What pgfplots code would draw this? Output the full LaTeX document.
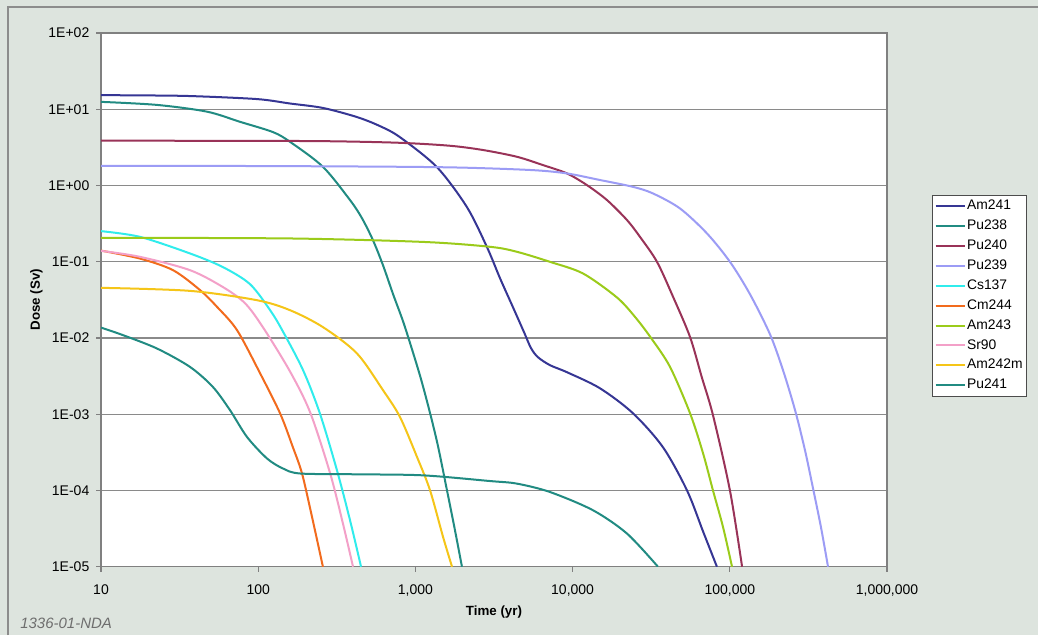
\documentclass[border=0pt]{standalone}
\usepackage{fontspec}
\setmainfont{Liberation Sans}
\usepackage{pgfplots}
\pgfplotsset{compat=1.18}
\definecolor{bg}{RGB}{221,228,222}
\definecolor{framegray}{HTML}{8C8C8C}
\definecolor{axgray}{HTML}{808080}
\definecolor{gridgray}{HTML}{8A8A8A}
\definecolor{idgray}{HTML}{6E6E6E}
\definecolor{cAm241}{HTML}{363694}
\definecolor{cPu238}{HTML}{218B82}
\definecolor{cPu240}{HTML}{993358}
\definecolor{cPu239}{HTML}{9C9CF5}
\definecolor{cCs137}{HTML}{30ECEC}
\definecolor{cCm244}{HTML}{F26B1D}
\definecolor{cAm243}{HTML}{9BCB1A}
\definecolor{cSr90}{HTML}{F3A0C8}
\definecolor{cAm242m}{HTML}{F5C518}
\definecolor{cPu241}{HTML}{218B82}
\begin{document}
\begin{tikzpicture}
\fill[bg] (0,0) rectangle (778.5pt,476.25pt);
\draw[framegray, line width=0.8pt] (6pt,0pt) -- (6pt,471pt) -- (778.5pt,471pt);
\begin{axis}[
  at={(75.75pt,51.2pt)}, anchor=south west,
  scale only axis, width=589.5pt, height=400.3pt,
  xmode=log, ymode=log,
  xmin=10, xmax=1000000, ymin=1e-5, ymax=100,
  xtick={10,100,1000,10000,100000,1000000},
  xticklabels={10,100,{1,000},{10,000},{100,000},{1,000,000}},
  ytick={1e-5,1e-4,1e-3,1e-2,1e-1,1,10,100},
  yticklabels={1E-05,1E-04,1E-03,1E-02,1E-01,1E+00,1E+01,1E+02},
  xminorticks=false, yminorticks=false,
  tick align=outside, tick pos=left,
  major tick length=3.75pt,
  tick style={axgray, line width=0.8pt},
  axis line style={axgray, line width=1pt},
  axis background/.style={fill=white},
  ymajorgrids, major grid style={gridgray, line width=0.8pt},
  ticklabel style={font=\fontsize{10.5}{12.6}\selectfont},
  xticklabel style={yshift=-6.5pt},
  yticklabel style={xshift=-1.5pt},
  /pgf/number format/assume math mode=true,
  xlabel={\bfseries Time (yr)},
  ylabel={\bfseries Dose (Sv)},
  every axis x label/.style={at={(axis description cs:0.5,-0.0849)}, anchor=center, font=\fontsize{10}{12}\selectfont},
  every axis y label/.style={at={(axis description cs:-0.082,0.5)}, anchor=center, rotate=90, font=\fontsize{10}{12}\selectfont},
  legend style={at={(axis description cs:1.0569,0.6965)}, anchor=north west,
    draw=black!70, line width=0.5pt, fill=white,
    font=\fontsize{10.4}{12}\selectfont,
    inner xsep=2pt, inner ysep=2pt,
    nodes={inner sep=1pt, text height=8pt, text depth=2.5pt, anchor=west},
    row sep=2.4pt},
  legend cell align=left,
  legend image code/.code={\draw[#1] (0pt,0pt) -- (21.75pt,0pt);},
  every axis plot/.append style={line width=1.5pt, smooth, tension=0.5},
]
\addplot[cAm241] coordinates {(10,15.3) (17.7,15.2) (36.8,14.9) (98,13.6) (159,11.9) (258,10.4) (425,7.9) (596,6.0) (798,4.3) (1371,1.74) (2128,0.52) (2851,0.156) (3451,0.061) (4120,0.0269) (4910,0.0119) (5440,0.00735) (6020,0.0056) (7180,0.0044) (9200,0.00356) (14930,0.00219) (24210,0.00103) (37580,3.69e-4) (53460,1.0e-4) (67600,2.9e-5) (82800,1e-5)};
\addlegendentry{Am241}
\addplot[cPu238] coordinates {(10,12.5) (22.7,11.4) (47.2,9.3) (76.5,6.85) (124,5.02) (159,3.75) (258,1.76) (384,0.643) (457,0.373) (537,0.192) (622,0.0901) (721,0.0376) (834,0.0166) (951,0.00713) (1086,0.00288) (1240,0.00103) (1393,3.8e-4) (1589,1.0e-4) (1786,3.0e-5) (1978,1e-5)};
\addlegendentry{Pu238}
\addplot[cPu240] coordinates {(10,3.87) (100,3.85) (300,3.8) (798,3.63) (1660,3.32) (2690,2.92) (4425,2.38) (6490,1.85) (9210,1.44) (12350,1.01) (16560,0.643) (22190,0.352) (26830,0.212) (34400,0.1) (43550,0.0347) (55850,0.0103) (66220,3.1e-3) (78180,9.7e-4) (100200,1e-4) (119700,1e-5)};
\addlegendentry{Pu240}
\addplot[cPu239] coordinates {(10,1.81) (100,1.80) (798,1.76) (2128,1.71) (5600,1.59) (9200,1.44) (14930,1.18) (24210,0.96) (32430,0.787) (48200,0.5) (71600,0.235) (100200,0.0998) (134300,0.0376) (180100,0.0112) (218000,3.78e-3) (260100,1.13e-3) (300800,3.37e-4) (338300,1.07e-4) (380200,3.29e-5) (421500,1e-5)};
\addlegendentry{Pu239}
\addplot[cCs137] coordinates {(10,0.252) (17.7,0.212) (36.8,0.1285) (59.7,0.085) (88.7,0.0508) (119,0.0232) (142,0.0127) (193,0.00378) (247,1.02e-3) (317,1.84e-4) (384,4.06e-5) (451,1e-5)};
\addlegendentry{Cs137}
\addplot[cCm244] coordinates {(10,0.14) (17.7,0.110) (28.7,0.0776) (42.7,0.0424) (54.7,0.0256) (73.3,0.0127) (103,3.42e-3) (138,1.02e-3) (166,3.72e-4) (190,1.67e-4) (220,4.49e-5) (258,1e-5)};
\addlegendentry{Cm244}
\addplot[cAm243] coordinates {(10,0.206) (159,0.202) (1117,0.182) (2985,0.157) (4425,0.135) (7180,0.0997) (11640,0.0702) (19150,0.034) (24950,0.0189) (31550,0.01) (41650,0.00418) (55850,1.03e-3) (67600,3.07e-4) (78180,1e-4) (90600,3.3e-5) (103300,1e-5)};
\addlegendentry{Am243}
\addplot[cSr90] coordinates {(10,0.139) (17.7,0.116) (36.8,0.0776) (59.7,0.0465) (82.4,0.0286) (107,0.0139) (159,3.67e-3) (214,1.06e-3) (287,1.67e-4) (346,3.68e-5) (401,1e-5)};
\addlegendentry{Sr90}
\addplot[cAm242m] coordinates {(10,0.0455) (36.8,0.0415) (98.2,0.0313) (159,0.0232) (258,0.0139) (425,6.27e-3) (622,2.07e-3) (798,9.2e-4) (1024,2.75e-4) (1240,1e-4) (1500,2.45e-5) (1710,1e-5)};
\addlegendentry{Am242m}
\addplot[cPu241] coordinates {(10,0.0137) (13.8,0.0109) (22.7,7.28e-3) (36.8,4.18e-3) (51.5,2.28e-3) (66.2,1.13e-3) (84.9,5.03e-4) (114,2.62e-4) (144,1.94e-4) (185,1.67e-4) (425,1.63e-4) (1117,1.58e-4) (2985,1.33e-4) (4425,1.23e-4) (7180,9.55e-5) (13490,5.5e-5) (22190,2.72e-5) (34910,1e-5)};
\addlegendentry{Pu241}
\end{axis}
\node[anchor=west, inner sep=0pt, text=idgray, font=\fontsize{11.25}{13}\selectfont\itshape] at (15pt,9pt) {1336-01-NDA};
\pgfresetboundingbox
\useasboundingbox (0,0) rectangle (778.5pt,476.25pt);
\end{tikzpicture}
\end{document}
